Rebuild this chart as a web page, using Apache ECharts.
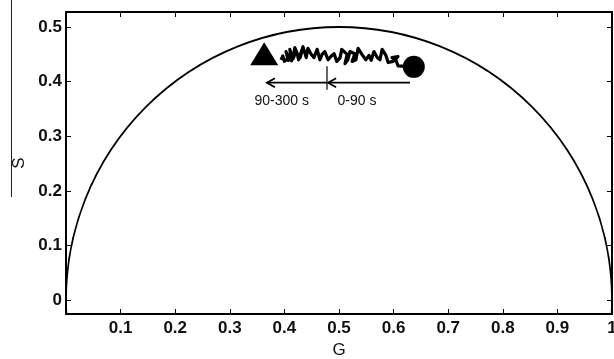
<!DOCTYPE html>
<html>
<head>
<meta charset="utf-8">
<script src="https://cdn.jsdelivr.net/npm/echarts@6/dist/echarts.min.js"></script>
<style>
  html, body { margin: 0; padding: 0; background: #fff; }
  #chart { width: 614px; height: 359px; }
</style>
</head>
<body>
<div id="chart"></div>
<script>
// Phasor plot: universal semicircle with a G/S trajectory over time.
const gTicks = [0.1, 0.2, 0.3, 0.4, 0.5, 0.6, 0.7, 0.8, 0.9, 1];
const gTickLabels = ['0.1', '0.2', '0.3', '0.4', '0.5', '0.6', '0.7', '0.8', '0.9', '1'];
const sTicks = [0, 0.1, 0.2, 0.3, 0.4, 0.5];
const sTickLabels = ['0', '0.1', '0.2', '0.3', '0.4', '0.5'];

// Universal circle: centre G, centre S, radius
const semicircle = [[0.5, 0, 0.5]];

// Trajectory, from start (right) to end (left)
const trajG = [0.637, 0.621, 0.608, 0.604, 0.597, 0.608, 0.599, 0.590, 0.586, 0.579,
  0.575, 0.570, 0.564, 0.559, 0.555, 0.549, 0.542, 0.535, 0.531, 0.524,
  0.529, 0.520, 0.516, 0.511, 0.515, 0.505, 0.502, 0.496, 0.491, 0.485,
  0.480, 0.474, 0.469, 0.465, 0.460, 0.454, 0.449, 0.443, 0.440, 0.434,
  0.429, 0.432, 0.426, 0.423, 0.419, 0.416, 0.421, 0.413, 0.410, 0.414,
  0.407, 0.403, 0.408, 0.400, 0.397, 0.394];
const trajS = [0.427, 0.428, 0.429, 0.440, 0.444, 0.446, 0.437, 0.435, 0.448, 0.459,
  0.440, 0.444, 0.455, 0.439, 0.448, 0.440, 0.450, 0.461, 0.440, 0.437,
  0.451, 0.455, 0.440, 0.433, 0.450, 0.459, 0.444, 0.437, 0.451, 0.446,
  0.440, 0.455, 0.450, 0.440, 0.459, 0.444, 0.450, 0.461, 0.444, 0.464,
  0.444, 0.458, 0.440, 0.453, 0.462, 0.442, 0.455, 0.438, 0.459, 0.446,
  0.439, 0.455, 0.444, 0.437, 0.447, 0.440];

// Start (circle) and end (triangle) markers
const startPoint = [0.637, 0.427];
const endPoint = [0.363, 0.451];

// Time-window arrows: [G from, G to, S]
const arrows = [[0.630, 0.480, 0.398], [0.478, 0.368, 0.398]];
// Divider between the windows: [G, S low, S high]
const divider = [[0.478, 0.385, 0.428]];
// Window captions
const captionText = ['90-300 s', '0-90 s'];
const captionG = [0.395, 0.533];
const captionS = [0.365, 0.365];

const chart = echarts.init(document.getElementById('chart'), null, { renderer: 'canvas' });

const FONT = '"Liberation Sans", Arial, sans-serif';
const tickLabelStyle = { color: '#111', fontFamily: FONT, fontSize: 17, fontWeight: 'bold' };
const axisLine = { show: true, onZero: false, lineStyle: { color: '#000', width: 2 } };

const option = {
  animation: false,
  backgroundColor: '#fff',
  grid: { left: 66, right: 2, top: 12, bottom: 45, containLabel: false, outerBoundsMode: 'none' },
  xAxis: [
    {
      type: 'value', position: 'bottom', min: 0, max: 1,
      axisLine: axisLine,
      axisTick: { show: true, inside: true, length: 5, customValues: gTicks, lineStyle: { color: '#000', width: 1 } },
      axisLabel: {
        show: true, margin: 6, customValues: gTicks, ...tickLabelStyle,
        formatter: v => gTickLabels[gTicks.findIndex(t => Math.abs(t - v) < 1e-9)] ?? ''
      },
      splitLine: { show: false },
      name: 'G', nameLocation: 'middle', nameGap: 27,
      nameTextStyle: { color: '#111', fontFamily: FONT, fontSize: 17 }
    },
    {
      type: 'value', position: 'top', min: 0, max: 1,
      axisLine: axisLine,
      axisTick: { show: true, inside: true, length: 5, customValues: gTicks, lineStyle: { color: '#000', width: 1 } },
      axisLabel: { show: false },
      splitLine: { show: false }
    }
  ],
  yAxis: [
    {
      type: 'value', position: 'left', min: -0.0256, max: 0.5275,
      axisLine: axisLine,
      axisTick: { show: true, inside: true, length: 5, customValues: sTicks, lineStyle: { color: '#000', width: 1 } },
      axisLabel: {
        show: true, margin: 4, customValues: sTicks, ...tickLabelStyle,
        formatter: v => sTickLabels[sTicks.findIndex(t => Math.abs(t - v) < 1e-9)] ?? ''
      },
      splitLine: { show: false },
      name: 'S', nameLocation: 'middle', nameGap: 36, nameRotate: 90,
      nameTextStyle: { color: '#111', fontFamily: FONT, fontSize: 17 }
    },
    {
      type: 'value', position: 'right', min: -0.0256, max: 0.5275,
      axisLine: axisLine,
      axisTick: { show: true, inside: true, length: 5, customValues: sTicks, lineStyle: { color: '#000', width: 1 } },
      axisLabel: { show: false },
      splitLine: { show: false }
    }
  ],
  graphic: [
    { type: 'line', shape: { x1: 11.5, y1: 0, x2: 11.5, y2: 197 }, style: { stroke: '#222', lineWidth: 1 } }
  ],
  series: [
    {
      name: 'universal circle', type: 'custom', clip: true,
      data: semicircle,
      renderItem: (params, api) => {
        const c = api.coord([api.value(0), api.value(1)]);
        const r = api.size([api.value(2), 0])[0];
        return {
          type: 'circle',
          shape: { cx: c[0], cy: c[1], r: r },
          style: { fill: 'none', stroke: '#000', lineWidth: 1.8 }
        };
      },
      z: 2
    },
    {
      name: 'trajectory', type: 'line',
      data: trajG.map((g, i) => [g, trajS[i]]),
      showSymbol: false, symbol: 'none',
      lineStyle: { color: '#000', width: 3.2, join: 'round' },
      z: 3
    },
    {
      name: 'start', type: 'scatter', data: [startPoint],
      symbol: 'circle', symbolSize: 22,
      itemStyle: { color: '#000', opacity: 1 }, z: 4
    },
    {
      name: 'end', type: 'scatter', data: [endPoint],
      symbol: 'triangle', symbolSize: [28, 23],
      itemStyle: { color: '#000', opacity: 1 }, z: 4
    },
    {
      name: 'windows', type: 'custom',
      data: arrows,
      renderItem: (params, api) => {
        const a = api.coord([api.value(0), api.value(2)]);
        const b = api.coord([api.value(1), api.value(2)]);
        const dir = Math.sign(b[0] - a[0]) || 1;
        return {
          type: 'group',
          children: [
            { type: 'line', shape: { x1: a[0], y1: a[1], x2: b[0], y2: b[1] }, style: { stroke: '#000', lineWidth: 1.8 } },
            {
              type: 'polyline',
              shape: { points: [[b[0] - dir * 8, b[1] - 4.5], [b[0], b[1]], [b[0] - dir * 8, b[1] + 4.5]] },
              style: { stroke: '#000', lineWidth: 1.8, fill: 'none' }
            }
          ]
        };
      },
      z: 3
    },
    {
      name: 'divider', type: 'custom',
      data: divider,
      renderItem: (params, api) => {
        const a = api.coord([api.value(0), api.value(1)]);
        const b = api.coord([api.value(0), api.value(2)]);
        return { type: 'line', shape: { x1: a[0], y1: a[1], x2: b[0], y2: b[1] }, style: { stroke: '#000', lineWidth: 1.2 } };
      },
      z: 3
    },
    {
      name: 'captions', type: 'scatter',
      data: captionG.map((g, i) => ({ value: [g, captionS[i]], name: captionText[i] })),
      symbolSize: 1, itemStyle: { color: 'rgba(0,0,0,0)', opacity: 1 },
      label: {
        show: true, position: 'inside', formatter: p => p.name,
        color: '#111', fontFamily: FONT, fontSize: 14
      },
      z: 3
    }
  ]
};

chart.setOption(option);
</script>
</body>
</html>
